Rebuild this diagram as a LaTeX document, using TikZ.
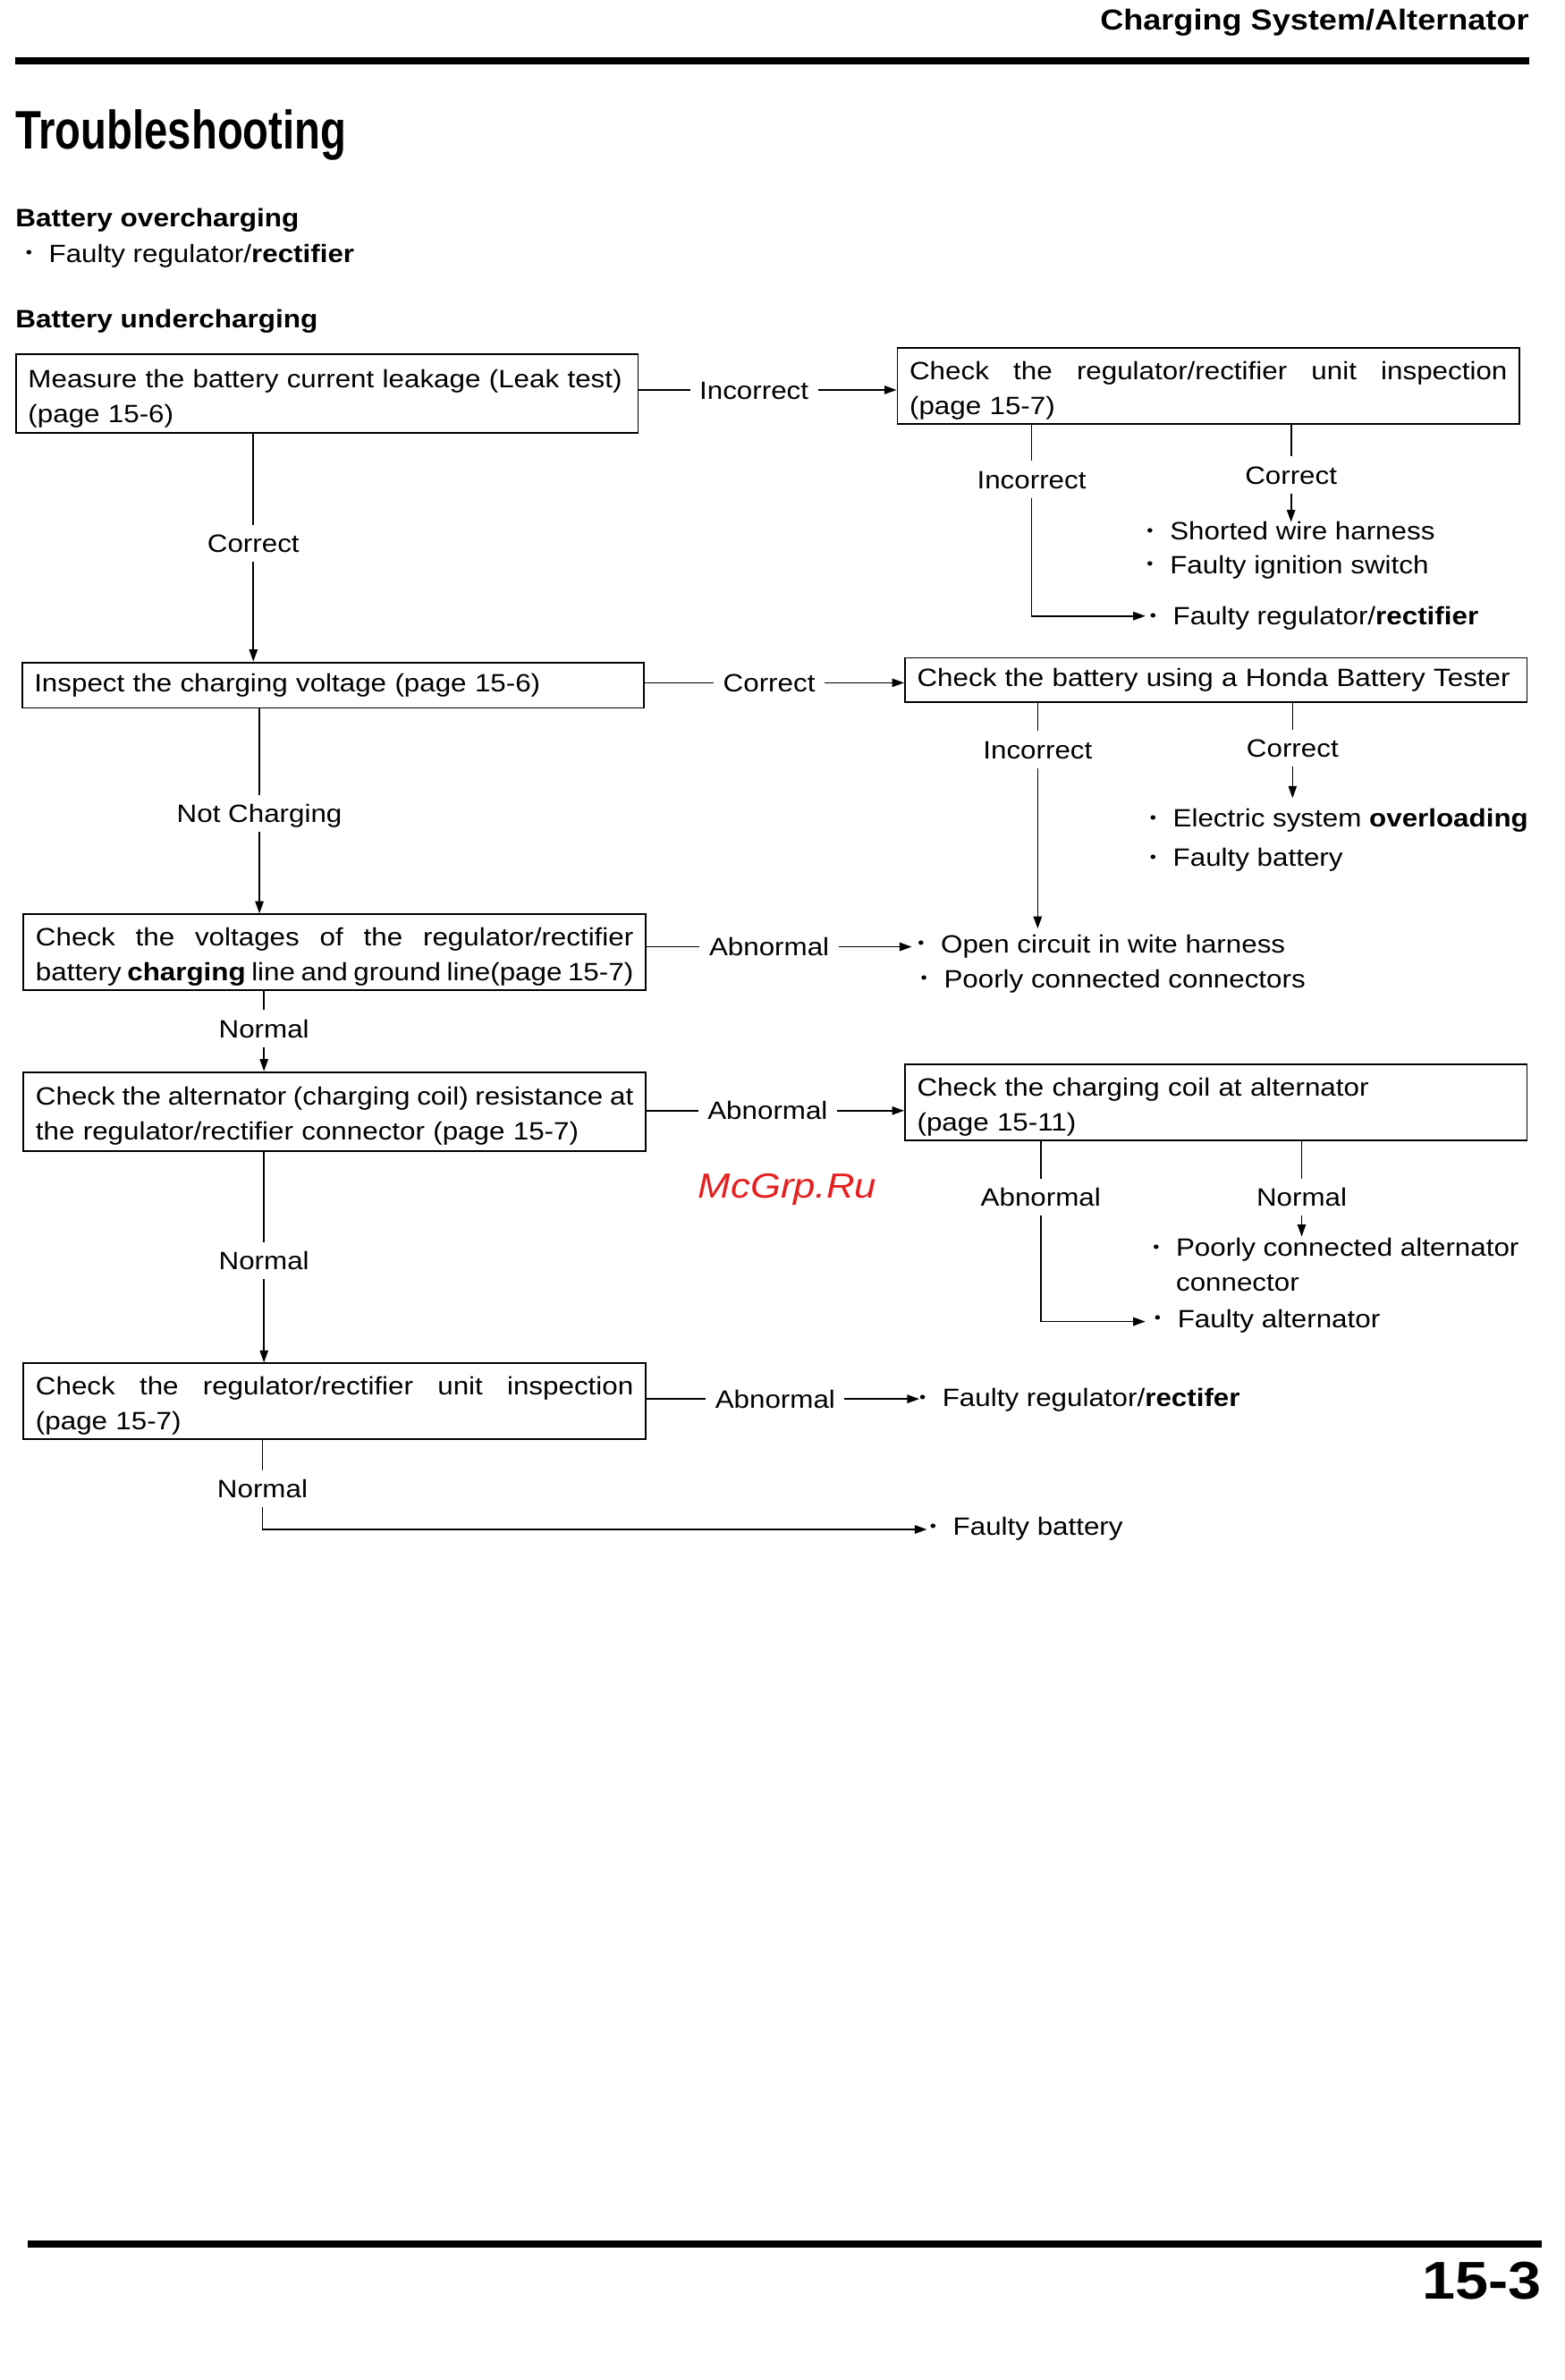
\documentclass[tikz,border=0pt]{standalone}
\usepackage{fontspec}
\setmainfont{Liberation Sans}[FakeStretch=1.12]
\newfontfamily\titlefont{Liberation Sans}[FakeStretch=0.78]
\usetikzlibrary{arrows.meta}
\definecolor{wmred}{RGB}{228,32,32}
\newcommand\bodyf{\fontsize{16.5}{23}\selectfont}
\newcommand\bul{\llap{\raisebox{0.3ex}{\scalebox{0.65}{\textbullet}}\hspace{11pt}}}
\newcommand\js[1]{\hbox to 394pt{\spaceskip=0.28em plus 1fil minus 0.12em\relax #1}}
\begin{document}
\begin{tikzpicture}[x=1pt,y=-1pt,
  every node/.style={inner sep=0pt},
  cbox/.style={draw, line width=1.1pt, anchor=north west, inner xsep=8pt, inner ysep=0pt,
    minimum width=410pt, text width=394pt, align=left, font=\bodyf, minimum height=#1},
  lab/.style={font=\bodyf, inner xsep=6pt, inner ysep=6pt, text height=12pt, text depth=0pt},
  bitem/.style={font=\bodyf, anchor=base west, align=left},
  ln/.style={line width=1pt},
  arr/.style={line width=1pt, -{Triangle[length=8pt,width=5.5pt]}}]
\fill[white] (0,0) rectangle (1031,1568.6);
\useasboundingbox (0,0) rectangle (1031,1568.6);

% header
\node[anchor=base east, font=\bfseries\fontsize{19}{22}\selectfont] (hdr) at (1008,19.6) {Charging System/Alternator};
\draw[line width=4.5pt] (10,40) -- (1008,40);
\node[anchor=base west, font=\titlefont\bfseries\fontsize{35.7}{40}\selectfont] (title) at (10,98.3) {Troubleshooting};
\node[anchor=base west, font=\bfseries\fontsize{16.6}{20}\selectfont] (over) at (10,149.4) {Battery overcharging};
\node[bitem] (over1) at (32,172.9) {\bul Faulty regulator/\textbf{rectifier}};
\node[anchor=base west, font=\bfseries\fontsize{16.6}{20}\selectfont] (under) at (10,216.2) {Battery undercharging};

% boxes
\node[cbox=52pt] (A) at (10,233) {\rule{0pt}{18pt}Measure the battery current leakage (Leak test)\\(page 15-6)};
\node[cbox=50pt] (B) at (591,229) {\rule{0pt}{18pt}\js{Check the regulator/rectifier unit inspection}\\(page 15-7)};
\node[cbox=30pt] (C) at (14,436) {Inspect the charging voltage (page 15-6)};
\node[cbox=29pt] (D) at (596,433) {Check the battery using a Honda Battery Tester};
\node[cbox=50pt] (E) at (15,602) {\rule{0pt}{18pt}\js{Check the voltages of the regulator/rectifier}\\\js{battery \textbf{charging} line and ground line(page 15-7)}};
\node[cbox=52pt] (F) at (15,706) {\rule{0pt}{18pt}\js{Check the alternator (charging coil) resistance at}\\the regulator/rectifier connector (page 15-7)};
\node[cbox=50pt] (G) at (596,701) {\rule{0pt}{18pt}Check the charging coil at alternator\\(page 15-11)};
\node[cbox=50pt] (H) at (15,898) {\rule{0pt}{18pt}\js{Check the regulator/rectifier unit inspection}\\(page 15-7)};

% labels
\node[lab] (lAB) at (497,257) {Incorrect};
\node[lab] (Binc) at (680,316) {Incorrect};
\node[lab] (Bcor) at (851,313) {Correct};
\node[lab] (Acor) at (167,358) {Correct};
\node[lab] (lCD) at (507,450) {Correct};
\node[lab] (Dinc) at (684,494) {Incorrect};
\node[lab] (Dcor) at (852,493) {Correct};
\node[lab] (Cnot) at (171,536) {Not Charging};
\node[lab] (Eab) at (507,624) {Abnormal};
\node[lab] (Enorm) at (174,678) {Normal};
\node[lab] (Fab) at (506,732) {Abnormal};
\node[lab] (Gab) at (686,789) {Abnormal};
\node[lab] (Gnorm) at (858,789) {Normal};
\node[lab] (Fnorm) at (174,831) {Normal};
\node[lab] (Hab) at (511,922) {Abnormal};
\node[lab] (Hnorm) at (173,981) {Normal};

% result items
\node[bitem] (r1) at (771,356) {\bul Shorted wire harness};
\node[bitem] (r2) at (771,378) {\bul Faulty ignition switch};
\node[bitem] (r3) at (773,412) {\bul Faulty regulator/\textbf{rectifier}};
\node[bitem] (r4) at (773,545) {\bul Electric system \textbf{overloading}};
\node[bitem] (r5) at (773,571) {\bul Faulty battery};
\node[bitem] (r6) at (620,628) {\bul Open circuit in wite harness};
\node[bitem] (r7) at (622,651) {\bul Poorly connected connectors};
\node[bitem] (r8) at (775,851) {\bul Poorly connected alternator\\connector};
\node[bitem] (r9) at (776,875) {\bul Faulty alternator};
\node[bitem] (r10) at (621,927) {\bul Faulty regulator/\textbf{rectifer}};
\node[bitem] (r11) at (628,1012) {\bul Faulty battery};

% arrow tips
\coordinate (t1) at (755,406);
\coordinate (t2) at (851,344);
\coordinate (t3) at (684,612);
\coordinate (t4) at (852,526);
\coordinate (t5) at (601,624);
\coordinate (t6) at (755,871);
\coordinate (t7) at (858,815);
\coordinate (t8) at (606,922);
\coordinate (t9) at (611,1008);

% connectors
\draw[ln] (A.east |- lAB) -- (lAB);
\draw[arr] (lAB) -- (lAB -| B.west);
\draw[ln] (B.south -| Binc) -- (Binc);
\draw[arr] (Binc) -- (Binc |- t1) -- (t1);
\draw[ln] (B.south -| Bcor) -- (Bcor);
\draw[arr] (Bcor) -- (t2);
\draw[ln] (A.south -| Acor) -- (Acor);
\draw[arr] (Acor) -- (Acor |- C.north);
\draw[ln] (C.east |- lCD) -- (lCD);
\draw[arr] (lCD) -- (lCD -| D.west);
\draw[ln] (D.south -| Dinc) -- (Dinc);
\draw[arr] (Dinc) -- (t3);
\draw[ln] (D.south -| Dcor) -- (Dcor);
\draw[arr] (Dcor) -- (t4);
\draw[ln] (C.south -| Cnot) -- (Cnot);
\draw[arr] (Cnot) -- (Cnot |- E.north);
\draw[ln] (E.east |- Eab) -- (Eab);
\draw[arr] (Eab) -- (t5);
\draw[ln] (E.south -| Enorm) -- (Enorm);
\draw[arr] (Enorm) -- (Enorm |- F.north);
\draw[ln] (F.east |- Fab) -- (Fab);
\draw[arr] (Fab) -- (Fab -| G.west);
\draw[ln] (G.south -| Gab) -- (Gab);
\draw[arr] (Gab) -- (Gab |- t6) -- (t6);
\draw[ln] (G.south -| Gnorm) -- (Gnorm);
\draw[arr] (Gnorm) -- (t7);
\draw[ln] (F.south -| Fnorm) -- (Fnorm);
\draw[arr] (Fnorm) -- (Fnorm |- H.north);
\draw[ln] (H.east |- Hab) -- (Hab);
\draw[arr] (Hab) -- (t8);
\draw[ln] (H.south -| Hnorm) -- (Hnorm);
\draw[arr] (Hnorm) -- (Hnorm |- t9) -- (t9);

% watermark
\node[font=\itshape\fontsize{23}{26}\selectfont, text=wmred] (wm) at (519,784) {McGrp.Ru};

% footer
\draw[line width=4.5pt] (18,1479) -- (1016,1479);
\node[anchor=base east, font=\bfseries\fontsize{35}{40}\selectfont] (pg) at (1016,1515) {15-3};
\end{tikzpicture}
\end{document}
